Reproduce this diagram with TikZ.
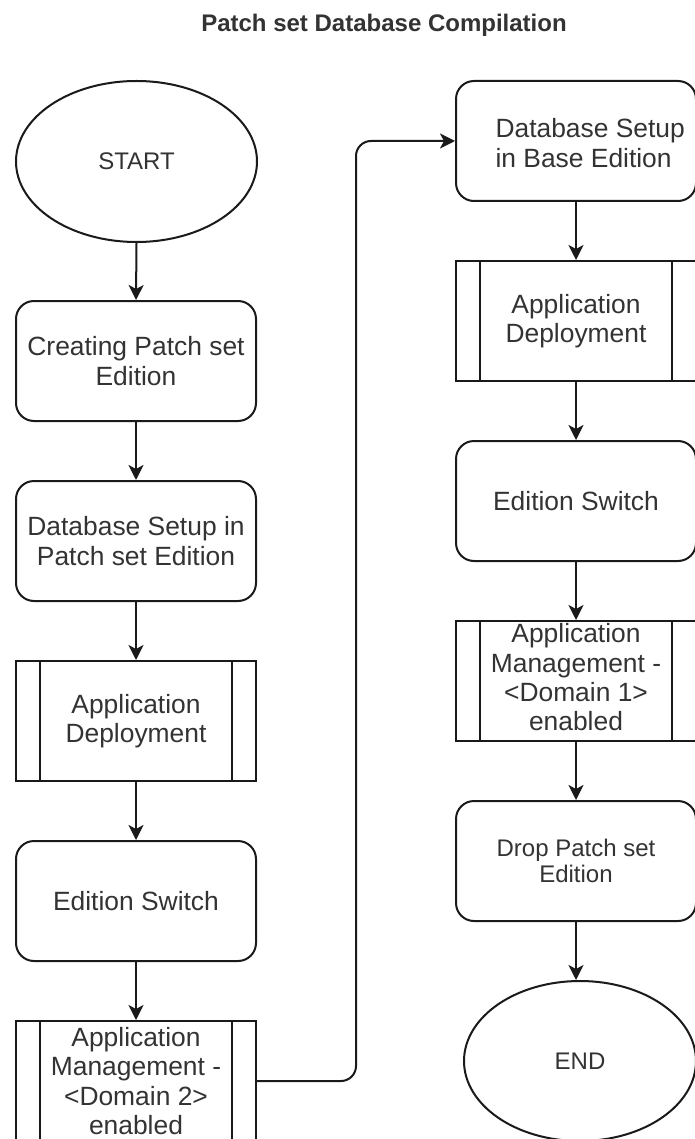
\documentclass[tikz,border=0pt]{standalone}
\usepackage{fontspec}
\setmainfont{Liberation Sans}
\usetikzlibrary{shapes.geometric,arrows.meta}
\definecolor{ln}{HTML}{1A1A1A}
\definecolor{txt}{HTML}{333333}
\begin{document}
\begin{tikzpicture}[x=1pt,y=-1pt,
  every node/.style={text=txt},
  bodyfont/.style={font=\fontsize{26.4}{29.3}\selectfont},
  smallfont/.style={font=\fontsize{24}{26.7}\selectfont},
  box/.style={draw=ln, line width=2pt, rounded corners=18pt, minimum width=240pt,
    minimum height=120pt, inner sep=0pt, align=center, bodyfont},
  proc/.style={draw=ln, line width=2pt, minimum width=240pt, minimum height=120pt,
    inner sep=0pt, align=center, bodyfont,
    path picture={
      \draw[ln, line width=2pt] ([xshift=24pt]path picture bounding box.north west)
        -- ([xshift=24pt]path picture bounding box.south west);
      \draw[ln, line width=2pt] ([xshift=-24pt]path picture bounding box.north east)
        -- ([xshift=-24pt]path picture bounding box.south east);}},
  term/.style={draw=ln, ellipse, line width=2pt, inner sep=0pt, smallfont},
  arr/.style={draw=ln, line width=2pt, -{Stealth[length=15pt,width=15pt,inset=4pt]}}
]
\useasboundingbox[fill=white] (0,0) rectangle (694,1139);

\node[font=\bfseries\fontsize{24}{28}\selectfont, anchor=base] (title) at (384,32) {Patch set Database Compilation};

% left column
\node[term, minimum width=241pt, minimum height=161pt] (start) at (136.5,161.5) {START};
\node[box] (l1) at (136,361) {Creating Patch set\\Edition};
\node[box] (l2) at (136,541) {Database Setup in\\Patch set Edition};
\node[proc] (l3) at (136,721) {Application\\Deployment};
\node[box] (l4) at (136,901) {Edition Switch};
\node[proc] (l5) at (136,1081) {Application\\Management -\\<Domain 2>\\enabled};

% right column
\node[box, label={[anchor=west, xshift=37pt, yshift=-2pt, align=left, bodyfont]west:{Database Setup\\in Base Edition}}] (r1) at (576,141) {};
\node[proc] (r2) at (576,321) {Application\\Deployment};
\node[box] (r3) at (576,501) {Edition Switch};
\node[proc] (r4) at (576,681) {\raisebox{4pt}{\begin{tabular}{@{}c@{}}Application\\Management -\\<Domain 1>\\enabled\end{tabular}}};
\node[box, smallfont] (r5) at (576,861) {Drop Patch set\\Edition};
\node[term, minimum width=232pt, minimum height=160pt] (end) at (580,1061) {END};

\coordinate (bend) at (356,0);

% connectors
\draw[arr] (start.south) -- (l1.north);
\draw[arr] (l1.south) -- (l2.north);
\draw[arr] (l2.south) -- (l3.north);
\draw[arr] (l3.south) -- (l4.north);
\draw[arr] (l4.south) -- (l5.north);
\draw[arr, rounded corners=15pt] (l5.east) -| (bend |- r1.west) -- (r1.west);
\draw[arr] (r1.south) -- (r2.north);
\draw[arr] (r2.south) -- (r3.north);
\draw[arr] (r3.south) -- (r4.north);
\draw[arr] (r4.south) -- (r5.north);
\draw[arr] (r5.south) -- (r5.south |- end.north);
\end{tikzpicture}
\end{document}
